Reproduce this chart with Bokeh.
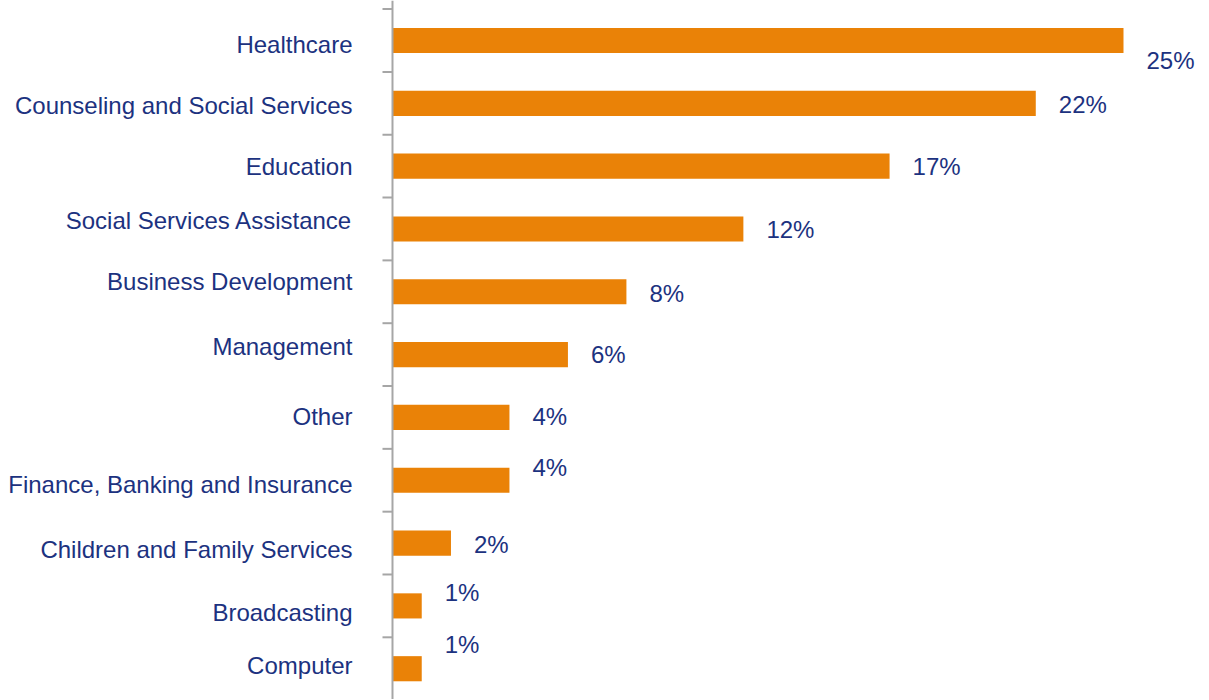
import math
from bokeh.plotting import figure
from bokeh.models import Range1d, ColumnDataSource, Span
from bokeh.core.properties import value
from bokeh.embed import file_html
from bokeh.resources import INLINE

categories = [
    "Healthcare",
    "Counseling and Social Services",
    "Education",
    "Social Services Assistance",
    "Business Development",
    "Management",
    "Other",
    "Finance, Banking and Insurance",
    "Children and Family Services",
    "Broadcasting",
    "Computer",
]
values = [25, 22, 17, 12, 8, 6, 4, 4, 2, 1, 1]
value_labels = ["25%", "22%", "17%", "12%", "8%", "6%", "4%", "4%", "2%", "1%", "1%"]

# label placement quirks of the original (pixel offsets, style only)
label_dy = [4, 2, 0, -8, -10, -8, -1, 4, 6, 7, -3]
value_dy = [20, 1, 0, 1, 2, 0, -1, -13, 1, -13, -24]

pos = [i + 0.5 for i in range(len(categories))]
boundaries = list(range(len(categories) + 1))

src = ColumnDataSource(dict(
    cat=categories, val=values, vlab=value_labels, y=pos,
    zero=[0] * len(values), ldy=label_dy, vdy=value_dy,
))
tick_src = ColumnDataSource(dict(y=boundaries, x=[0] * len(boundaries)))

BAR = "#EA8207"
TXT = "#1C3280"
AXIS = "#A6A6A6"
FONT = "Liberation Sans"

p = figure(width=1208, height=699, output_backend="svg", toolbar_location=None,
           x_range=Range1d(-13.406, 27.907), y_range=Range1d(10.99, -0.137),
           x_axis_location=None, y_axis_location=None,
           min_border_left=0, min_border_right=0, min_border_top=0, min_border_bottom=0)
p.outline_line_color = None
p.xgrid.visible = False
p.ygrid.visible = False

p.hbar(y="y", left=0, right="val", height=0.4, source=src, fill_color=BAR, line_color=None)

# value axis line and outward tick marks at category boundaries
p.add_layout(Span(location=0, dimension="height", line_color=AXIS, line_width=2))
p.ray(x="x", y="y", length=10, length_units="screen", angle=math.pi, source=tick_src,
      line_color=AXIS, line_width=2)

p.text(x="zero", y="y", text="cat", source=src, x_offset=-40, y_offset="ldy",
       text_align="right", text_baseline="middle", text_color=TXT,
       text_font=value(FONT), text_font_size="24px")
p.text(x="val", y="y", text="vlab", source=src, x_offset=23, y_offset="vdy",
       text_align="left", text_baseline="middle", text_color=TXT,
       text_font=value(FONT), text_font_size="24px")

open("out.html", "w").write(file_html(p, INLINE))
